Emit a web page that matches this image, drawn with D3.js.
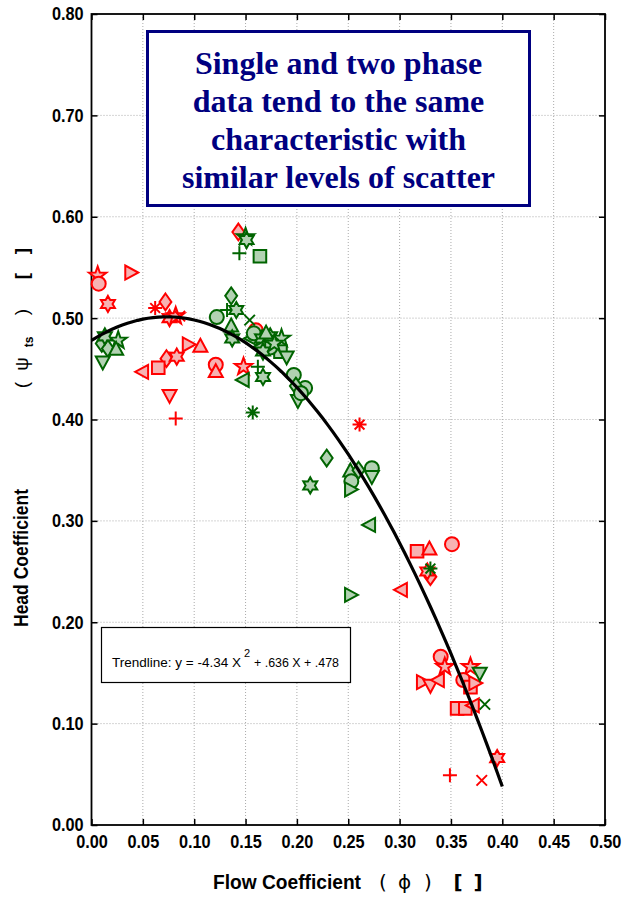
<!DOCTYPE html>
<html>
<head>
<meta charset="utf-8">
<script src="https://cdn.jsdelivr.net/npm/d3@7"></script>
<style>
  body { margin: 0; background: #fff; }
  svg { display: block; }
</style>
</head>
<body>
<svg id="chart" width="624" height="900"></svg>
<script>
// single phase data (red)
let redPhi = [0.006, 0.007, 0.016, 0.038, 0.062, 0.072, 0.076, 0.082, 0.086, 0.094, 0.106,
  0.073, 0.083, 0.065, 0.050, 0.076, 0.082, 0.121, 0.121, 0.148, 0.143, 0.160, 0.261,
  0.302, 0.317, 0.329, 0.351, 0.330, 0.327, 0.340, 0.344, 0.322, 0.330, 0.338, 0.369,
  0.362, 0.369, 0.373, 0.356, 0.364, 0.372, 0.395, 0.349, 0.380];
let redPsi = [0.542, 0.534, 0.514, 0.545, 0.510, 0.516, 0.500, 0.502, 0.502, 0.474, 0.472,
  0.460, 0.462, 0.451, 0.447, 0.424, 0.401, 0.454, 0.447, 0.452, 0.585, 0.488, 0.395,
  0.232, 0.270, 0.272, 0.277, 0.245, 0.250, 0.166, 0.156, 0.141, 0.138, 0.143, 0.156,
  0.143, 0.136, 0.140, 0.115, 0.115, 0.118, 0.066, 0.049, 0.044];
let redMarker = ['p', 'o', 'h', '>', '*', 'd', 'h', 'p', 'x', '>', '^',
  'd', 'h', 's', '<', 'v', '+', 'o', '^', 'p', 'd', 'o', '*',
  '<', 's', '^', 'o', 'd', 'h', 'o', 'p', '>', 'v', '<', 'p',
  'o', 's', '>', 's', 's', '<', 'h', '+', 'x'];

// two phase data (green)
let greenPhi = [0.010, 0.016, 0.011, 0.026, 0.024, 0.013, 0.136, 0.122, 0.132, 0.141, 0.154,
  0.136, 0.137, 0.148, 0.162, 0.167, 0.157, 0.150, 0.151, 0.144, 0.164, 0.156, 0.158,
  0.166, 0.174, 0.185, 0.184, 0.190, 0.174, 0.164, 0.167, 0.178, 0.170, 0.197, 0.208,
  0.199, 0.201, 0.204, 0.229, 0.213, 0.252, 0.253, 0.252, 0.273, 0.273, 0.260, 0.271,
  0.252, 0.378, 0.383, 0.330];
let greenPsi = [0.475, 0.470, 0.457, 0.478, 0.469, 0.482, 0.522, 0.501, 0.508, 0.508, 0.498,
  0.492, 0.480, 0.439, 0.452, 0.442, 0.407, 0.580, 0.577, 0.564, 0.561, 0.480, 0.485,
  0.480, 0.482, 0.480, 0.467, 0.462, 0.471, 0.471, 0.467, 0.475, 0.485, 0.444, 0.431,
  0.433, 0.419, 0.426, 0.362, 0.335, 0.349, 0.339, 0.331, 0.352, 0.344, 0.350, 0.296,
  0.227, 0.150, 0.119, 0.253];
let greenMarker = ['d', 'd', 'v', 'p', '^', 'h', 'd', 'o', '+', 'h', 'x',
  '^', 'h', '<', '+', 'h', '*', 'p', 'h', '+', 's', '<', 'o',
  'h', 'h', 'p', 's', 'v', 'o', '<', 'h', 'p', '^', 'o', 'o',
  'd', 'v', 'o', 'd', 'h', '^', 'o', '>', 'o', 'v', 'd', '<',
  '>', 'v', 'x', '*'];

// trendline: y = -4.34 X^2 + .636 X + .478
let trendCoef = [-4.34, 0.636, 0.478];
let trendRange = [0, 0.4];

let xTicks = [0, 0.05, 0.1, 0.15, 0.2, 0.25, 0.3, 0.35, 0.4, 0.45, 0.5];
let yTicks = [0, 0.1, 0.2, 0.3, 0.4, 0.5, 0.6, 0.7, 0.8];

let titleLines = ['Single and two phase', 'data tend to the same',
  'characteristic with', 'similar levels of scatter'];

let svg = d3.select('#chart');

let pLeft = 91.5, pRight = 605, pTop = 14, pBottom = 825;

let x = d3.scaleLinear().domain([0, 0.5]).range([pLeft, pRight]);
let y = d3.scaleLinear().domain([0, 0.8]).range([pBottom, pTop]);

// grid
let grid = svg.append('g')
  .attr('stroke', '#aaa')
  .attr('stroke-width', 1)
  .attr('stroke-dasharray', '1,2');
grid.selectAll('.gx').data(xTicks.slice(1, -1)).enter().append('line')
  .attr('x1', d => x(d)).attr('x2', d => x(d))
  .attr('y1', pTop).attr('y2', pBottom);
grid.selectAll('.gy').data(yTicks.slice(1, -1)).enter().append('line')
  .attr('x1', pLeft).attr('x2', pRight)
  .attr('y1', d => y(d)).attr('y2', d => y(d));

// axes
let fmt = d3.format('.2f');
let axisFont = "bold 18.5px 'Liberation Sans', Arial, sans-serif";

let gx = svg.append('g').attr('transform', `translate(0,${pBottom})`)
  .call(d3.axisBottom(x).tickValues(xTicks).tickFormat(fmt)
    .tickSizeInner(-6).tickSizeOuter(0).tickPadding(10));
let gy = svg.append('g').attr('transform', `translate(${pLeft},0)`)
  .call(d3.axisLeft(y).tickValues(yTicks).tickFormat(fmt)
    .tickSizeInner(-6).tickSizeOuter(0).tickPadding(9));
svg.append('g').attr('transform', `translate(0,${pTop})`)
  .call(d3.axisTop(x).tickValues(xTicks).tickFormat('')
    .tickSizeInner(-6).tickSizeOuter(0));
svg.append('g').attr('transform', `translate(${pRight},0)`)
  .call(d3.axisRight(y).tickValues(yTicks).tickFormat('')
    .tickSizeInner(-6).tickSizeOuter(0));

svg.selectAll('.tick line').attr('stroke', '#000').attr('stroke-width', 1.5);
svg.selectAll('.domain').remove();
[gx, gy].forEach(g => g.selectAll('text')
  .style('font', axisFont).attr('fill', '#000')
  .attr('transform', 'scale(0.88,1)'));

// frame
svg.append('rect')
  .attr('x', pLeft).attr('y', pTop)
  .attr('width', pRight - pLeft).attr('height', pBottom - pTop)
  .attr('fill', 'none').attr('stroke', '#000').attr('stroke-width', 1.8);

// markers
function poly(pts) {
  return 'M' + pts.map(p => p[0].toFixed(2) + ',' + p[1].toFixed(2)).join('L') + 'Z';
}
function rot(pts, a) {
  let c = Math.cos(a), s = Math.sin(a);
  return pts.map(p => [p[0] * c - p[1] * s, p[0] * s + p[1] * c]);
}
function star(n, ro, ri) {
  let pts = [];
  for (let i = 0; i < 2 * n; i++) {
    let a = -Math.PI / 2 + i * Math.PI / n;
    let rr = i % 2 ? ri : ro;
    pts.push([rr * Math.cos(a), rr * Math.sin(a)]);
  }
  return pts;
}
function markerPath(m, r) {
  let tri = [[0, -r * 1.1], [r, r * 0.75], [-r, r * 0.75]];
  switch (m) {
    case 'o': { let p = d3.path(); p.arc(0, 0, r, 0, 2 * Math.PI); p.closePath(); return p.toString(); }
    case 's': return poly([[-r * 0.9, -r * 0.9], [r * 0.9, -r * 0.9], [r * 0.9, r * 0.9], [-r * 0.9, r * 0.9]]);
    case 'd': return poly([[0, -r * 1.2], [r * 0.85, 0], [0, r * 1.2], [-r * 0.85, 0]]);
    case '^': return poly(tri);
    case 'v': return poly(rot(tri, Math.PI));
    case '<': return poly(rot(tri, -Math.PI / 2));
    case '>': return poly(rot(tri, Math.PI / 2));
    case 'p': return poly(star(5, r * 1.3, r * 0.52));
    case 'h': return poly(star(6, r * 1.15, r * 0.66));
    case '+': return `M${-r},0H${r}M0,${-r}V${r}`;
    case 'x': { let k = r * 0.75; return `M${-k},${-k}L${k},${k}M${-k},${k}L${k},${-k}`; }
    case '*': { let k = r * 0.7; return `M${-r},0H${r}M0,${-r}V${r}M${-k},${-k}L${k},${k}M${-k},${k}L${k},${-k}`; }
  }
}
let openMarkers = ['+', 'x', '*'];

function drawSeries(phi, psi, marks, stroke, fill) {
  let pts = phi.map((d, i) => ({ phi: d, psi: psi[i], m: marks[i] }));
  svg.append('g').selectAll('path').data(pts).enter().append('path')
    .attr('transform', d => `translate(${x(d.phi)},${y(d.psi)})`)
    .attr('d', d => markerPath(d.m, 7))
    .attr('fill', d => openMarkers.includes(d.m) ? 'none' : fill)
    .attr('stroke', stroke)
    .attr('stroke-width', 2)
    .attr('stroke-linejoin', 'miter');
}
drawSeries(redPhi, redPsi, redMarker, '#ff0000', '#f7b2b2');
drawSeries(greenPhi, greenPsi, greenMarker, '#006400', '#b2d2b2');

// trendline
let trendX = d3.range(trendRange[0], trendRange[1] + 1e-9, 0.005);
let trendLine = d3.line()
  .x(d => x(d))
  .y(d => y(trendCoef[0] * d * d + trendCoef[1] * d + trendCoef[2]));
svg.append('path')
  .datum(trendX)
  .attr('d', trendLine)
  .attr('fill', 'none')
  .attr('stroke', '#000')
  .attr('stroke-width', 3.2);

// title box
svg.append('rect')
  .attr('x', 147.5).attr('y', 31.5)
  .attr('width', 382).attr('height', 174)
  .attr('fill', '#fff').attr('stroke', '#000080').attr('stroke-width', 3);
svg.append('text')
  .attr('text-anchor', 'middle')
  .style('font', "bold 32px 'Liberation Serif', 'Times New Roman', serif")
  .attr('fill', '#000080')
  .selectAll('tspan').data(titleLines).enter().append('tspan')
  .attr('x', 338.5)
  .attr('y', (d, i) => 74 + i * 38)
  .text(d => d);

// trendline box
svg.append('rect')
  .attr('x', 101.5).attr('y', 627.5)
  .attr('width', 249).attr('height', 55)
  .attr('fill', '#fff').attr('stroke', '#000').attr('stroke-width', 1.2);
let trendFont = "13px 'Liberation Sans', Arial, sans-serif";
svg.append('text')
  .attr('x', 112).attr('y', 667)
  .attr('textLength', 129).attr('lengthAdjust', 'spacingAndGlyphs')
  .style('font', trendFont).attr('fill', '#000')
  .text('Trendline: y = -4.34 X');
svg.append('text')
  .attr('x', 244).attr('y', 657)
  .style('font', "11px 'Liberation Sans', Arial, sans-serif").attr('fill', '#000')
  .text('2');
svg.append('text')
  .attr('x', 254).attr('y', 667)
  .attr('textLength', 85).attr('lengthAdjust', 'spacingAndGlyphs')
  .style('font', trendFont).attr('fill', '#000')
  .text('+ .636 X + .478');

// x axis title
let xt = svg.append('g').attr('fill', '#000');
xt.append('text').attr('x', 213).attr('y', 889)
  .attr('textLength', 148).attr('lengthAdjust', 'spacingAndGlyphs')
  .style('font', "bold 20.5px 'Liberation Sans', Arial, sans-serif")
  .text('Flow Coefficient');
[['(', 383, 'normal'], ['\u03d5', 404.5, 'normal'], [')', 428, 'normal'],
 ['[', 458, 'bold'], [']', 478, 'bold']].forEach(p => {
  xt.append('text').attr('x', p[1]).attr('y', 889)
    .attr('text-anchor', 'middle')
    .style('font', `${p[2]} 20px 'DejaVu Sans', 'Liberation Sans', sans-serif`)
    .text(p[0]);
});

// y axis title
let yt = svg.append('g').attr('fill', '#000');
yt.append('text').attr('transform', 'translate(28,627) rotate(-90)')
  .attr('textLength', 138).attr('lengthAdjust', 'spacingAndGlyphs')
  .style('font', "bold 20px 'Liberation Sans', Arial, sans-serif")
  .text('Head Coefficient');
[['(', 385, 'normal', 19, 0], ['\u03c8', 364, 'normal', 19, 0], ['ts', 342, 'bold', 12, 5],
 [')', 312, 'normal', 19, 0], ['[', 276, 'bold', 19, 0], [']', 251, 'bold', 19, 0]].forEach(p => {
  yt.append('text').attr('transform', `translate(${28 + p[4]},${p[1]}) rotate(-90)`)
    .attr('text-anchor', 'middle')
    .style('font', `${p[2]} ${p[3]}px 'Liberation Sans', Arial, sans-serif`)
    .text(p[0]);
});
</script>
</body>
</html>
